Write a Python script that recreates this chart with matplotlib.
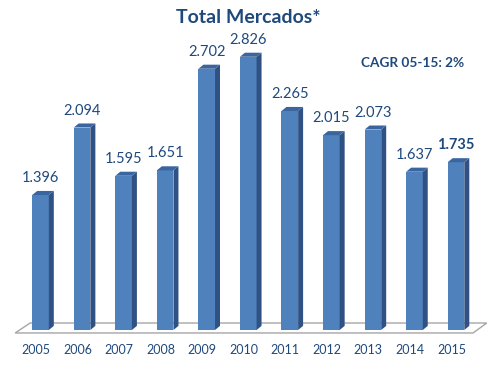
import matplotlib.pyplot as plt
from matplotlib.patches import Polygon

years = ['2005', '2006', '2007', '2008', '2009', '2010', '2011', '2012', '2013', '2014', '2015']
valores = [1.396, 2.094, 1.595, 1.651, 2.702, 2.826, 2.265, 2.015, 2.073, 1.637, 1.735]
etiquetas = ['1.396', '2.094', '1.595', '1.651', '2.702', '2.826', '2.265', '2.015', '2.073', '1.637', '1.735']

plt.rcParams['font.family'] = ['Lato', 'DejaVu Sans']
azul_texto = '#1F497D'
frente = '#4F81BD'
lado = '#2F5183'
arriba = '#3A659E'

fig = plt.figure(figsize=(4.99, 3.70), dpi=100)
ax = fig.add_axes([0, 0, 1, 1])
ax.set_xlim(-0.975, 11.035)
ax.set_ylim(-0.414, 3.413)
ax.axis('off')

ancho = 0.40
dx, dy = 0.12, 0.042
n = len(valores)

# suelo
suelo = Polygon([(-0.61, -0.031), (n - 0.59, -0.031), (n - 0.26, 0.072), (-0.25, 0.072)],
                closed=True, facecolor='white', edgecolor='#A6A6A6', lw=1.0, zorder=1)
ax.add_patch(suelo)

x = list(range(n))
ax.bar(x, valores, width=ancho, color=frente, zorder=3)
for i, v in enumerate(valores):
    l, r = i - ancho / 2, i + ancho / 2
    ax.add_patch(Polygon([(r, 0), (r + dx, dy), (r + dx, v + dy), (r, v)],
                         closed=True, facecolor=lado, edgecolor='none', zorder=3))
    ax.add_patch(Polygon([(l, v), (r, v), (r + dx, v + dy), (l + dx, v + dy)],
                         closed=True, facecolor=arriba, edgecolor='none', zorder=3))
    peso = 'bold' if i == n - 1 else 'normal'
    ax.text(i, v + 0.175, etiquetas[i], ha='center', va='center', fontsize=10.5,
            color=azul_texto, fontweight=peso)
    ax.text(i - 0.11, -0.207, years[i], ha='center', va='center', fontsize=9,
            color=azul_texto)

ax.text(5.0, 3.227, 'Total Mercados*', ha='center', va='center', fontsize=14,
        fontweight='bold', color=azul_texto)
ax.text(8.96, 2.765, 'CAGR 05-15: 2%', ha='center', va='center', fontsize=9.8,
        fontweight='bold', color=azul_texto)

fig.savefig('out.png', dpi=100)
